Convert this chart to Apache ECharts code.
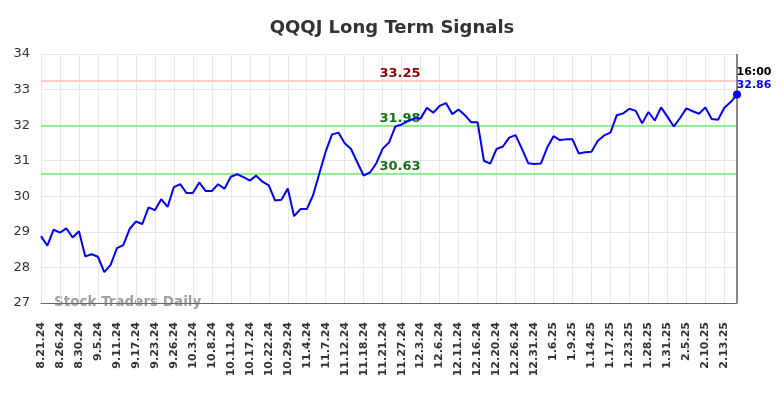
<!DOCTYPE html>
<html>
<head>
<meta charset="utf-8">
<script src="https://cdn.jsdelivr.net/npm/echarts@6/dist/echarts.min.js"></script>
<style>html,body{margin:0;padding:0;background:#fff}#c{width:784px;height:398px}</style>
</head>
<body>
<div id="c"></div>
<script>
const titleText = "QQQJ Long Term Signals";
const dates = [
"8.21.24","8.22.24","8.23.24","8.26.24","8.27.24","8.28.24","8.30.24","9.3.24","9.4.24",
"9.5.24","9.6.24","9.9.24","9.11.24","9.12.24","9.16.24","9.17.24","9.18.24","9.20.24",
"9.23.24","9.24.24","9.25.24","9.26.24","9.27.24","10.1.24","10.3.24","10.4.24","10.7.24",
"10.8.24","10.9.24","10.10.24","10.11.24","10.14.24","10.16.24","10.17.24","10.18.24","10.21.24",
"10.22.24","10.23.24","10.25.24","10.29.24","10.30.24","11.1.24","11.4.24","11.5.24","11.6.24",
"11.7.24","11.8.24","11.11.24","11.12.24","11.13.24","11.15.24","11.18.24","11.19.24","11.20.24",
"11.21.24","11.22.24","11.25.24","11.27.24","11.29.24","12.2.24","12.3.24","12.4.24","12.5.24",
"12.6.24","12.9.24","12.10.24","12.11.24","12.12.24","12.13.24","12.16.24","12.17.24","12.19.24",
"12.20.24","12.23.24","12.24.24","12.26.24","12.27.24","12.30.24","12.31.24","1.2.25","1.3.25",
"1.6.25","1.7.25","1.8.25","1.9.25","1.10.25","1.13.25","1.14.25","1.15.25","1.16.25",
"1.17.25","1.21.25","1.22.25","1.23.25","1.24.25","1.27.25","1.28.25","1.29.25","1.30.25",
"1.31.25","2.3.25","2.4.25","2.5.25","2.6.25","2.7.25","2.10.25","2.11.25","2.12.25",
"2.13.25","2.14.25","2.18.25"
];
const prices = [
28.88,28.61,29.06,28.98,29.10,28.84,29.02,28.31,28.37,
28.30,27.87,28.07,28.54,28.63,29.08,29.29,29.22,29.69,
29.61,29.92,29.70,30.26,30.34,30.09,30.09,30.39,30.15,
30.15,30.34,30.21,30.55,30.62,30.54,30.44,30.58,30.41,
30.31,29.88,29.90,30.22,29.44,29.64,29.64,30.03,30.65,
31.26,31.74,31.79,31.49,31.33,30.95,30.58,30.67,30.93,
31.34,31.51,31.96,32.02,32.11,32.19,32.19,32.49,32.35,
32.54,32.62,32.31,32.44,32.28,32.08,32.08,31.00,30.92,
31.33,31.40,31.65,31.72,31.34,30.93,30.91,30.92,31.37,
31.69,31.58,31.60,31.60,31.20,31.24,31.25,31.56,31.71,
31.79,32.28,32.33,32.46,32.40,32.05,32.37,32.13,32.50,
32.24,31.96,32.20,32.47,32.39,32.32,32.50,32.17,32.15,
32.49,32.65,32.86
];
const resistance = 33.25;
const upperSupport = 31.98;
const lowerSupport = 30.63;
const lastTime = "16:00";
const watermark = "Stock Traders Daily";
const yMin = 27, yMax = 34, yStep = 1;

const chart = echarts.init(document.getElementById('c'));
const lastIdx = prices.length - 1;
const seriesData = prices.map((v, i) => i === lastIdx ? {
  value: v,
  label: {
    show: true, position: 'top', distance: 4, offset: [17, 5],
    formatter: '{t|' + lastTime + '}\n{v|' + v.toFixed(2) + '}',
    rich: {
      t: {color: '#000', fontWeight: 'bold', fontSize: 11, fontFamily: 'DejaVu Sans', lineHeight: 13},
      v: {color: '#0000ff', fontWeight: 'bold', fontSize: 11, fontFamily: 'DejaVu Sans', lineHeight: 13}
    }
  }
} : v);

function hLine(val, lineColor, textColor) {
  return {
    yAxis: val,
    lineStyle: {color: lineColor, width: 2, type: 'solid'},
    label: {
      show: true, position: 'insideMiddleTop', distance: 1, offset: [11, 0],
      formatter: val.toFixed(2), color: textColor, fontWeight: 'bold',
      fontSize: 13, fontFamily: 'DejaVu Sans'
    }
  };
}

chart.setOption({
  animation: false,
  title: {
    text: titleText, left: 'center', top: 14,
    textStyle: {fontSize: 18, fontWeight: 'bold', color: '#333', fontFamily: 'DejaVu Sans'}
  },
  grid: {left: 41, right: 47, top: 54, bottom: 95},
  xAxis: {
    type: 'category', data: dates, boundaryGap: false,
    axisLine: {show: true, lineStyle: {color: '#666', width: 1}},
    axisTick: {show: false},
    axisLabel: {interval: 2, rotate: 90, margin: 19, color: '#333', fontSize: 11, fontWeight: 'bold', fontFamily: 'DejaVu Sans'},
    splitLine: {show: true, interval: 2, lineStyle: {color: '#e6e6e6', width: 1}}
  },
  yAxis: {
    type: 'value', min: yMin, max: yMax, interval: yStep,
    axisLine: {show: false}, axisTick: {show: false},
    axisLabel: {margin: 11, color: '#333', fontSize: 13, fontFamily: 'DejaVu Sans'},
    splitLine: {lineStyle: {color: '#e6e6e6', width: 1}}
  },
  graphic: [{
    type: 'text', left: 54, top: 295,
    style: {text: watermark, fill: 'rgba(120,120,120,0.7)', font: 'bold 13.5px "DejaVu Sans"'}
  }],
  series: [{
    type: 'line', data: seriesData, showSymbol: true, showAllSymbol: true,
    symbol: 'circle',
    symbolSize: (val, params) => params.dataIndex === lastIdx ? 8 : 0,
    lineStyle: {color: '#0000ff', width: 2}, itemStyle: {color: '#0000ff'},
    z: 3,
    markLine: {
      silent: true, symbol: 'none', z: 2,
      data: [
        hLine(resistance, '#ffcccc', '#8b0000'),
        hLine(upperSupport, '#90ee90', '#1a6e1a'),
        hLine(lowerSupport, '#90ee90', '#1a6e1a'),
        {xAxis: lastIdx, lineStyle: {color: '#888', width: 2, type: 'solid'}, label: {show: false}}
      ]
    }
  }]
});
</script>
</body>
</html>
